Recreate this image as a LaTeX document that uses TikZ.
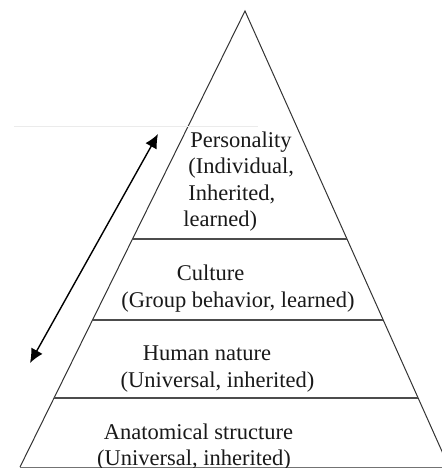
\documentclass[tikz,border=0pt]{standalone}
\usepackage{fontspec}
\setmainfont{Liberation Serif}
\usepackage{tikz}
\usetikzlibrary{arrows.meta,calc}

\tikzset{
	layertext/.style={inner sep=0pt,anchor=base,font=\fontsize{11.25}{13.25}\selectfont,text=black!90},
	edgeline/.style={draw=black!80,line width=0.5pt},
	levelline/.style={draw=black!70,line width=0.75pt}
}

\begin{document}
\begin{tikzpicture}[x=0.5pt,y=-0.5pt]
	\useasboundingbox (0,0) rectangle (442,468);
	\clip (0,0) rectangle (442,468);
	\coordinate (apex) at (245, 11);
	\coordinate (bl) at (20, 467);
	\coordinate (br) at (449, 467);
	\draw[edgeline] (bl) -- (apex) -- (br);
	\draw[draw=black!55,line width=0.5pt] (bl) -- (br);
	\draw[levelline] ($(apex)!0.5!(bl)$) -- ($(apex)!0.5!(br)$);
	\draw[levelline] ($(apex)!0.6776!(bl)$) -- ($(apex)!0.6776!(br)$);
	\draw[levelline] ($(apex)!0.8487!(bl)$) -- ($(apex)!0.8487!(br)$);
	\coordinate (s1) at (14, 126);
	\coordinate (s2) at (258, 126);
	\draw[draw=black!8,line width=0.5pt] (s1) -- (s2);
	\node[layertext,anchor=base west] (pers) at (190, 147) {Personality};
	\node[layertext,anchor=base west] (indiv) at (188, 173) {(Individual,};
	\node[layertext,anchor=base west] (inher) at (188, 200) {Inherited,};
	\node[layertext,anchor=base west] (learn) at (183, 226) {learned)};
	\node[layertext] (cult) at (210.5, 280) {Culture};
	\node[layertext] (group) at (238, 307) {(Group behavior, learned)};
	\node[layertext] (human) at (207, 360) {Human nature};
	\node[layertext] (univ1) at (217.5, 387) {(Universal, inherited)};
	\node[layertext] (anat) at (198.5, 439) {Anatomical structure};
	\node[layertext] (univ2) at (194, 465) {(Universal, inherited)};
	\coordinate (up) at (158, 134);
	\coordinate (down) at (30, 363);
	\draw[{Latex[length=7pt,width=6.5pt]}-{Latex[length=7pt,width=6.5pt]},line width=0.7pt] (down) -- (up);
\end{tikzpicture}
\end{document}
